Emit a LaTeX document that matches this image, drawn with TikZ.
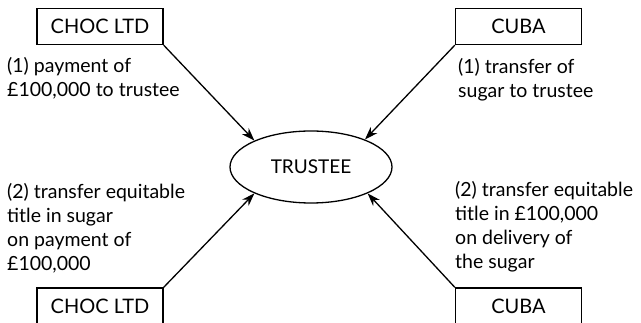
\documentclass[tikz,border=0pt]{standalone}
\usepackage{fontspec}
\setmainfont{Lato}
\usetikzlibrary{shapes.geometric,arrows.meta}
\begin{document}
\begin{tikzpicture}[x=1pt,y=-1pt,
  party/.style={draw,line width=1.3pt,minimum width=126pt,minimum height=36pt,inner sep=0pt,font=\fontsize{20}{22}\selectfont},
  hub/.style={draw,ellipse,line width=1.3pt,minimum width=162pt,minimum height=72pt,inner sep=0pt,font=\fontsize{19}{22}\selectfont},
  % notes are placed by the baseline of their last line
  note/.style={align=left,anchor=base west,inner sep=0pt,font=\fontsize{19.5}{24}\selectfont},
  flow/.style={line width=1.3pt,-{Stealth[length=13pt,width=9pt]}}]
\useasboundingbox (0,0) rectangle (641,323);
\begin{scope}
\clip (0,0) rectangle (641,323);
\node[party] (chocA) at (100,26.5) {CHOC LTD};
\node[party] (cubaA) at (518.5,26.5) {CUBA};
\node[party] (chocB) at (100,306) {CHOC LTD};
\node[party] (cubaB) at (518.5,306) {CUBA};
\node[hub] (trustee) at (311,167) {TRUSTEE};

\node[note] (n1) at (7,97) {(1) payment of\\£100,000 to trustee};
\node[note] (n2) at (458,97.5) {(1) transfer of\\sugar to trustee};
\node[note] (n3) at (7,271) {(2) transfer equitable\\title in sugar\\on payment of\\£100,000};
\node[note] (n4) at (455,268.5) {(2) transfer equitable\\title in £100,000\\on delivery of\\the sugar};

\draw[flow] (chocA.south east) -- (trustee.155);
\draw[flow] (cubaA.south west) -- (trustee.27);
\draw[flow] (chocB.north east) -- (trustee.205);
\draw[flow] (cubaB.north west) -- (trustee.335);
\end{scope}
\end{tikzpicture}
\end{document}
